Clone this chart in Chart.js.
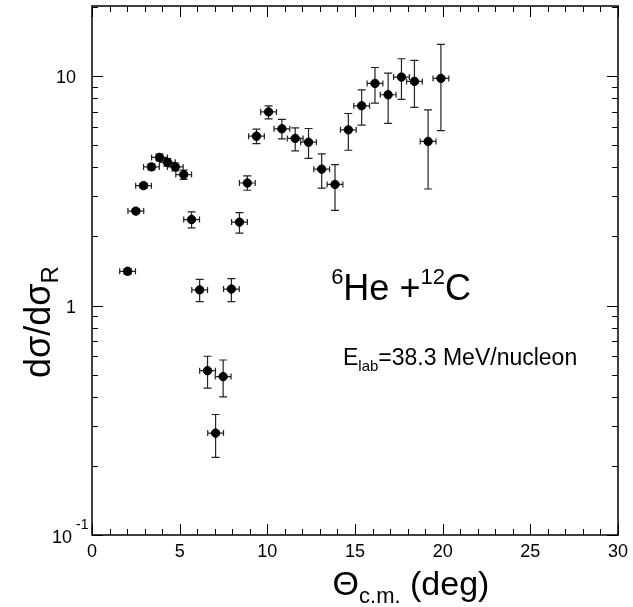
<!DOCTYPE html>
<html>
<head>
<meta charset="utf-8">
<script src="https://cdn.jsdelivr.net/npm/chart.js@4/dist/chart.umd.min.js"></script>
<style>
  html, body { margin: 0; padding: 0; background: #fff; }
  #wrap { width: 633px; height: 607px; }
</style>
</head>
<body>
<div id="wrap"><canvas id="xsChart" width="633" height="607"></canvas></div>
<script>
// c.m. angle (deg) and d(sigma)/d(sigma_R)
const theta = [2.03, 2.50, 2.94, 3.39, 3.85, 4.30, 4.75, 5.23, 5.68, 6.14, 6.59, 7.05, 7.48, 7.95, 8.41, 8.86,
               9.38, 10.07, 10.83, 11.59, 12.35, 13.10, 13.86, 14.62, 15.38, 16.14, 16.89, 17.65, 18.39, 19.17, 19.90];
const ratio = [1.41, 2.58, 3.33, 4.02, 4.42, 4.21, 4.02, 3.72, 2.37, 1.17, 0.52, 0.278, 0.49, 1.18, 2.31, 3.42,
               5.47, 6.98, 5.89, 5.35, 5.15, 3.93, 3.37, 5.83, 7.42, 9.29, 8.29, 9.90, 9.48, 5.19, 9.77];
const ratioLow = [1.37, 2.52, 3.25, 3.90, 4.27, 4.05, 3.86, 3.55, 2.18, 1.04, 0.437, 0.218, 0.400, 1.04, 2.07, 3.18,
                  5.08, 6.51, 5.32, 4.72, 4.38, 3.25, 2.60, 4.75, 6.11, 7.62, 6.22, 7.91, 7.30, 3.22, 5.79];
const ratioHigh = [1.45, 2.64, 3.41, 4.14, 4.57, 4.37, 4.18, 3.89, 2.56, 1.30, 0.601, 0.335, 0.579, 1.31, 2.54, 3.67,
                   5.87, 7.42, 6.47, 5.95, 5.91, 4.58, 4.11, 6.87, 8.71, 10.9, 10.3, 11.9, 11.7, 7.13, 13.75];
const thetaErr = 0.45;

// axis ticks
const xMajor = [0, 5, 10, 15, 20, 25, 30];
const yMajor = [0.1, 1, 10];
const yLabels = [['10', '-1'], ['1', ''], ['10', '']];

const FONT = '"Liberation Sans", Arial, sans-serif';

// draw text pieces with sub/superscripts
function drawRich(ctx, parts, x, y, align) {
    let total = 0;
    parts.forEach(p => {
        ctx.font = p.size + 'px ' + FONT;
        p.w = ctx.measureText(p.t).width;
        total += p.w;
    });
    let cx = align === 'center' ? x - total / 2 : (align === 'right' ? x - total : x);
    ctx.textAlign = 'left';
    ctx.textBaseline = 'alphabetic';
    parts.forEach(p => {
        ctx.font = p.size + 'px ' + FONT;
        ctx.fillText(p.t, cx, y + (p.dy || 0));
        cx += p.w;
    });
}

const errorBars = {
    id: 'errorBars',
    beforeDatasetsDraw(chart) {
        const ctx = chart.ctx;
        const xs = chart.scales.x, ys = chart.scales.y;
        ctx.save();
        ctx.strokeStyle = '#222';
        ctx.lineWidth = 1.2;
        theta.forEach((t, i) => {
            const px = xs.getPixelForValue(t);
            const py = ys.getPixelForValue(ratio[i]);
            const yl = ys.getPixelForValue(ratioLow[i]);
            const yh = ys.getPixelForValue(ratioHigh[i]);
            const xl = xs.getPixelForValue(t - thetaErr);
            const xh = xs.getPixelForValue(t + thetaErr);
            ctx.beginPath();
            ctx.moveTo(px, yl); ctx.lineTo(px, yh);
            ctx.moveTo(px - 4, yl); ctx.lineTo(px + 4, yl);
            ctx.moveTo(px - 4, yh); ctx.lineTo(px + 4, yh);
            ctx.moveTo(xl, py); ctx.lineTo(xh, py);
            ctx.moveTo(xl, py - 3); ctx.lineTo(xl, py + 3);
            ctx.moveTo(xh, py - 3); ctx.lineTo(xh, py + 3);
            ctx.stroke();
        });
        ctx.restore();
    }
};

const frame = {
    id: 'frame',
    afterDraw(chart) {
        const ctx = chart.ctx;
        const a = chart.chartArea;
        const xs = chart.scales.x, ys = chart.scales.y;
        ctx.save();
        ctx.strokeStyle = '#000';
        ctx.fillStyle = '#000';

        // box
        ctx.lineWidth = 1.5;
        ctx.strokeRect(a.left, a.top, a.right - a.left, a.bottom - a.top);

        // x ticks, bottom and top
        ctx.lineWidth = 1;
        ctx.beginPath();
        for (let v = xs.min; v <= xs.max; v++) {
            const px = Math.round(xs.getPixelForValue(v)) + 0.5;
            const len = xMajor.includes(v) ? 11 : 6;
            ctx.moveTo(px, a.bottom); ctx.lineTo(px, a.bottom - len);
            ctx.moveTo(px, a.top); ctx.lineTo(px, a.top + len);
        }
        // y ticks, left and right
        for (let d = -1; d <= 1; d++) {
            for (let k = 1; k <= 9; k++) {
                const v = k * Math.pow(10, d);
                if (v < ys.min || v > ys.max) continue;
                const py = Math.round(ys.getPixelForValue(v)) + 0.5;
                const len = k === 1 ? 11 : 6;
                ctx.moveTo(a.left, py); ctx.lineTo(a.left + len, py);
                ctx.moveTo(a.right, py); ctx.lineTo(a.right - len, py);
            }
        }
        ctx.stroke();

        // x tick labels
        ctx.font = '18px ' + FONT;
        ctx.textAlign = 'center';
        ctx.textBaseline = 'middle';
        xMajor.forEach(v => ctx.fillText(String(v), xs.getPixelForValue(v), a.bottom + 17));

        // y tick labels
        yMajor.forEach((v, i) => {
            const py = ys.getPixelForValue(v);
            const [base, sup] = yLabels[i];
            if (sup) {
                drawRich(ctx, [{t: base, size: 18}], a.left - 20, py + 8, 'right');
                drawRich(ctx, [{t: sup, size: 14}], a.left - 16, py - 6, 'left');
            } else {
                drawRich(ctx, [{t: base, size: 18}], a.left - 16, py + 7, 'right');
            }
        });

        // axis titles
        drawRich(ctx, [
            {t: '\u0398', size: 34},
            {t: 'c.m.', size: 22, dy: 8},
            {t: ' (deg)', size: 34}
        ], 411, 595, 'center');

        ctx.save();
        ctx.translate(50, 322);
        ctx.rotate(-Math.PI / 2);
        drawRich(ctx, [
            {t: 'd\u03c3/d\u03c3', size: 36},
            {t: 'R', size: 24, dy: 8}
        ], 0, 0, 'center');
        ctx.restore();

        // reaction label
        drawRich(ctx, [
            {t: '6', size: 22, dy: -16},
            {t: 'He +', size: 36},
            {t: '12', size: 22, dy: -16},
            {t: 'C', size: 36}
        ], 401, 300, 'center');

        drawRich(ctx, [
            {t: 'E', size: 23},
            {t: 'lab', size: 15, dy: 6},
            {t: '=38.3 MeV/nucleon', size: 23}
        ], 343, 365, 'left');

        ctx.restore();
    }
};

document.addEventListener('DOMContentLoaded', function() {
    const ctx = document.getElementById('xsChart').getContext('2d');
    new Chart(ctx, {
        type: 'scatter',
        data: {
            datasets: [{
                label: '6He + 12C',
                data: theta.map((t, i) => ({x: t, y: ratio[i]})),
                backgroundColor: '#000',
                borderColor: '#000',
                pointRadius: 4.2,
                pointHoverRadius: 4.2
            }]
        },
        options: {
            responsive: false,
            animation: false,
            layout: {
                padding: {left: 92, right: 15, top: 6, bottom: 72}
            },
            plugins: {
                legend: {display: false},
                tooltip: {enabled: false}
            },
            scales: {
                x: {type: 'linear', min: 0, max: 30, display: false},
                y: {type: 'logarithmic', min: 0.1, max: 20.2, display: false}
            }
        },
        plugins: [errorBars, frame]
    });
});
</script>
</body>
</html>
